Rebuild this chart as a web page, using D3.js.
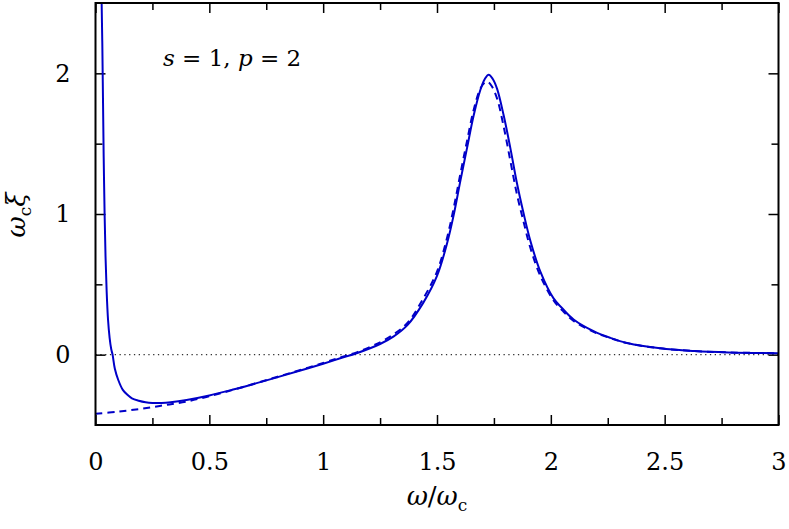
<!DOCTYPE html>
<html>
<head>
<meta charset="utf-8">
<script src="https://cdn.jsdelivr.net/npm/d3@7"></script>
<style>
  html, body { margin: 0; padding: 0; background: #fff; }
  svg { display: block; }
  svg text { font-family: "DejaVu Serif", "Liberation Serif", "Times New Roman", serif !important; fill: #000; }
</style>
</head>
<body>
<svg id="chart" width="789" height="529"></svg>
<script>
// ---- data ----
const xTickValues = [0, 0.5, 1, 1.5, 2, 2.5, 3];
const xTickLabels = ["0", "0.5", "1", "1.5", "2", "2.5", "3"];
const xMinorTicks = [0.25, 0.75, 1.25, 1.75, 2.25, 2.75];
const yTickValues = [0, 1, 2];
const yTickLabels = ["0", "1", "2"];
const yMinorTicks = [0.5, 1.5];

// solid curve
const solidX = [0.026, 0.027, 0.030, 0.033, 0.036, 0.040, 0.044, 0.049, 0.055, 0.062, 0.069, 0.075,
  0.085, 0.100, 0.120, 0.140, 0.160, 0.190, 0.220, 0.250, 0.290, 0.330, 0.400, 0.500, 0.600,
  0.700, 0.800, 0.900, 1.000, 1.075, 1.150, 1.250, 1.310, 1.370, 1.440, 1.500, 1.544, 1.573,
  1.602, 1.632, 1.661, 1.690, 1.710, 1.727, 1.745, 1.764, 1.793, 1.822, 1.851, 1.881, 1.910,
  1.954, 2.012, 2.050, 2.100, 2.190, 2.262, 2.335, 2.480, 2.630, 2.780, 3.000];
const solidY = [2.65, 2.50, 2.20, 1.80, 1.40, 1.00, 0.70, 0.45, 0.25, 0.12, 0.04, 0.00,
  -0.10, -0.18, -0.25, -0.285, -0.31, -0.327, -0.338, -0.343, -0.343, -0.338, -0.322, -0.290, -0.250,
  -0.206, -0.160, -0.113, -0.064, -0.026, 0.012, 0.076, 0.130, 0.210, 0.37, 0.56, 0.79, 0.99,
  1.23, 1.47, 1.70, 1.88, 1.96, 1.99, 1.96, 1.89, 1.70, 1.47, 1.22, 1.00, 0.81,
  0.59, 0.40, 0.33, 0.25, 0.165, 0.119, 0.083, 0.045, 0.026, 0.016, 0.010];

// dashed curve
const dashX = [0.000, 0.100, 0.200, 0.300, 0.400, 0.500, 0.600, 0.700, 0.800, 0.900, 1.000, 1.075,
  1.150, 1.250, 1.310, 1.370, 1.440, 1.500, 1.544, 1.573, 1.602, 1.632, 1.661, 1.690, 1.710,
  1.722, 1.740, 1.764, 1.793, 1.822, 1.851, 1.881, 1.910, 1.954, 2.012, 2.050, 2.100, 2.190,
  2.262, 2.335, 2.480, 2.630, 2.780, 3.000];
const dashY = [-0.420, -0.405, -0.385, -0.360, -0.333, -0.295, -0.252, -0.205, -0.157, -0.109, -0.059, -0.020,
  0.018, 0.088, 0.145, 0.225, 0.40, 0.59, 0.83, 1.04, 1.28, 1.52, 1.74, 1.89, 1.935,
  1.94, 1.91, 1.82, 1.62, 1.38, 1.14, 0.94, 0.76, 0.56, 0.385, 0.315, 0.24, 0.16,
  0.117, 0.082, 0.045, 0.026, 0.016, 0.010];

const annotation = {s: "1", p: "2"};

// ---- layout ----
const L = 95.5, R = 778.5, T = 3, B = 425;
const FONT = "'DejaVu Serif', 'Liberation Serif', serif";
const svg = d3.select("#chart");
const x = d3.scaleLinear().domain([0, 3]).range([L, R]);
const y = d3.scaleLinear().domain([-0.5, 2.5]).range([B, T]);

const blue = "#0000c8";

svg.append("defs").append("clipPath").attr("id", "clip")
  .append("rect").attr("x", L).attr("y", T).attr("width", R - L).attr("height", B - T);

// zero reference line (dotted)
svg.append("line")
  .attr("x1", x(0)).attr("x2", x(3)).attr("y1", y(0)).attr("y2", y(0))
  .attr("stroke", "#333").attr("stroke-width", 1.3)
  .attr("stroke-dasharray", "1.3,3.5");

// axes (ticks inward)
function styleAxis(g) {
  g.attr("font-family", FONT);
  g.select(".domain").remove();
  g.selectAll(".tick line").attr("stroke", "#000").attr("stroke-width", 1.5);
  g.selectAll(".tick text").attr("font-size", 24).attr("font-family", FONT);
}
const xLab = d => xTickLabels[xTickValues.indexOf(d)];
const yLab = d => yTickLabels[yTickValues.indexOf(d)];

svg.append("g").attr("transform", `translate(0,${B})`)
  .call(d3.axisBottom(x).tickValues(xTickValues).tickSize(-10).tickPadding(28).tickFormat(xLab))
  .call(styleAxis);
svg.append("g").attr("transform", `translate(0,${B})`)
  .call(d3.axisBottom(x).tickValues(xMinorTicks).tickSize(-7).tickFormat(""))
  .call(styleAxis);
svg.append("g").attr("transform", `translate(0,${T})`)
  .call(d3.axisTop(x).tickValues(xTickValues).tickSize(-10).tickFormat(""))
  .call(styleAxis);
svg.append("g").attr("transform", `translate(0,${T})`)
  .call(d3.axisTop(x).tickValues(xMinorTicks).tickSize(-7).tickFormat(""))
  .call(styleAxis);

svg.append("g").attr("transform", `translate(${L},0)`)
  .call(d3.axisLeft(y).tickValues(yTickValues).tickSize(-10).tickPadding(25).tickFormat(yLab))
  .call(styleAxis);
svg.append("g").attr("transform", `translate(${L},0)`)
  .call(d3.axisLeft(y).tickValues(yMinorTicks).tickSize(-7).tickFormat(""))
  .call(styleAxis);
svg.append("g").attr("transform", `translate(${R},0)`)
  .call(d3.axisRight(y).tickValues(yTickValues).tickSize(-10).tickFormat(""))
  .call(styleAxis);
svg.append("g").attr("transform", `translate(${R},0)`)
  .call(d3.axisRight(y).tickValues(yMinorTicks).tickSize(-7).tickFormat(""))
  .call(styleAxis);

// curves
const line = d3.line().x(d => x(d[0])).y(d => y(d[1])).curve(d3.curveCatmullRom.alpha(0.5));
const plot = svg.append("g").attr("clip-path", "url(#clip)");
plot.append("path")
  .datum(dashX.map((v, i) => [v, dashY[i]]))
  .attr("d", line).attr("fill", "none").attr("stroke", blue)
  .attr("stroke-width", 2).attr("stroke-dasharray", "7,5");
plot.append("path")
  .datum(solidX.map((v, i) => [v, solidY[i]]))
  .attr("d", line).attr("fill", "none").attr("stroke", blue)
  .attr("stroke-width", 2);

// frame
svg.append("rect").attr("x", L).attr("y", T).attr("width", R - L).attr("height", B - T)
  .attr("fill", "none").attr("stroke", "#000").attr("stroke-width", 2);

// annotation  s = 1, p = 2
const ann = svg.append("text").attr("x", 163).attr("y", 66)
  .attr("font-family", FONT).attr("font-size", 23);
ann.append("tspan").attr("font-style", "italic").text("s");
ann.append("tspan").text(" = " + annotation.s + ", ");
ann.append("tspan").attr("font-style", "italic").text("p");
ann.append("tspan").text(" = " + annotation.p);

// x-axis label  ω/ωc
const xl = svg.append("text").attr("x", (L + R) / 2).attr("y", 505)
  .attr("text-anchor", "middle").attr("font-family", FONT).attr("font-size", 26);
xl.append("tspan").attr("font-style", "italic").text("ω");
xl.append("tspan").text("/");
xl.append("tspan").attr("font-style", "italic").text("ω");
xl.append("tspan").attr("dy", 6).attr("font-size", 17).text("c");

// y-axis label  ωc ξ
const yl = svg.append("text").attr("transform", `translate(25,${(y(1) + 1)}) rotate(-90)`)
  .attr("text-anchor", "middle").attr("font-family", FONT).attr("font-size", 26);
yl.append("tspan").attr("font-style", "italic").text("ω");
yl.append("tspan").attr("dy", 6).attr("font-size", 17).text("c");
yl.append("tspan").attr("dy", -6).attr("font-style", "italic").text("ξ");
</script>
</body>
</html>
